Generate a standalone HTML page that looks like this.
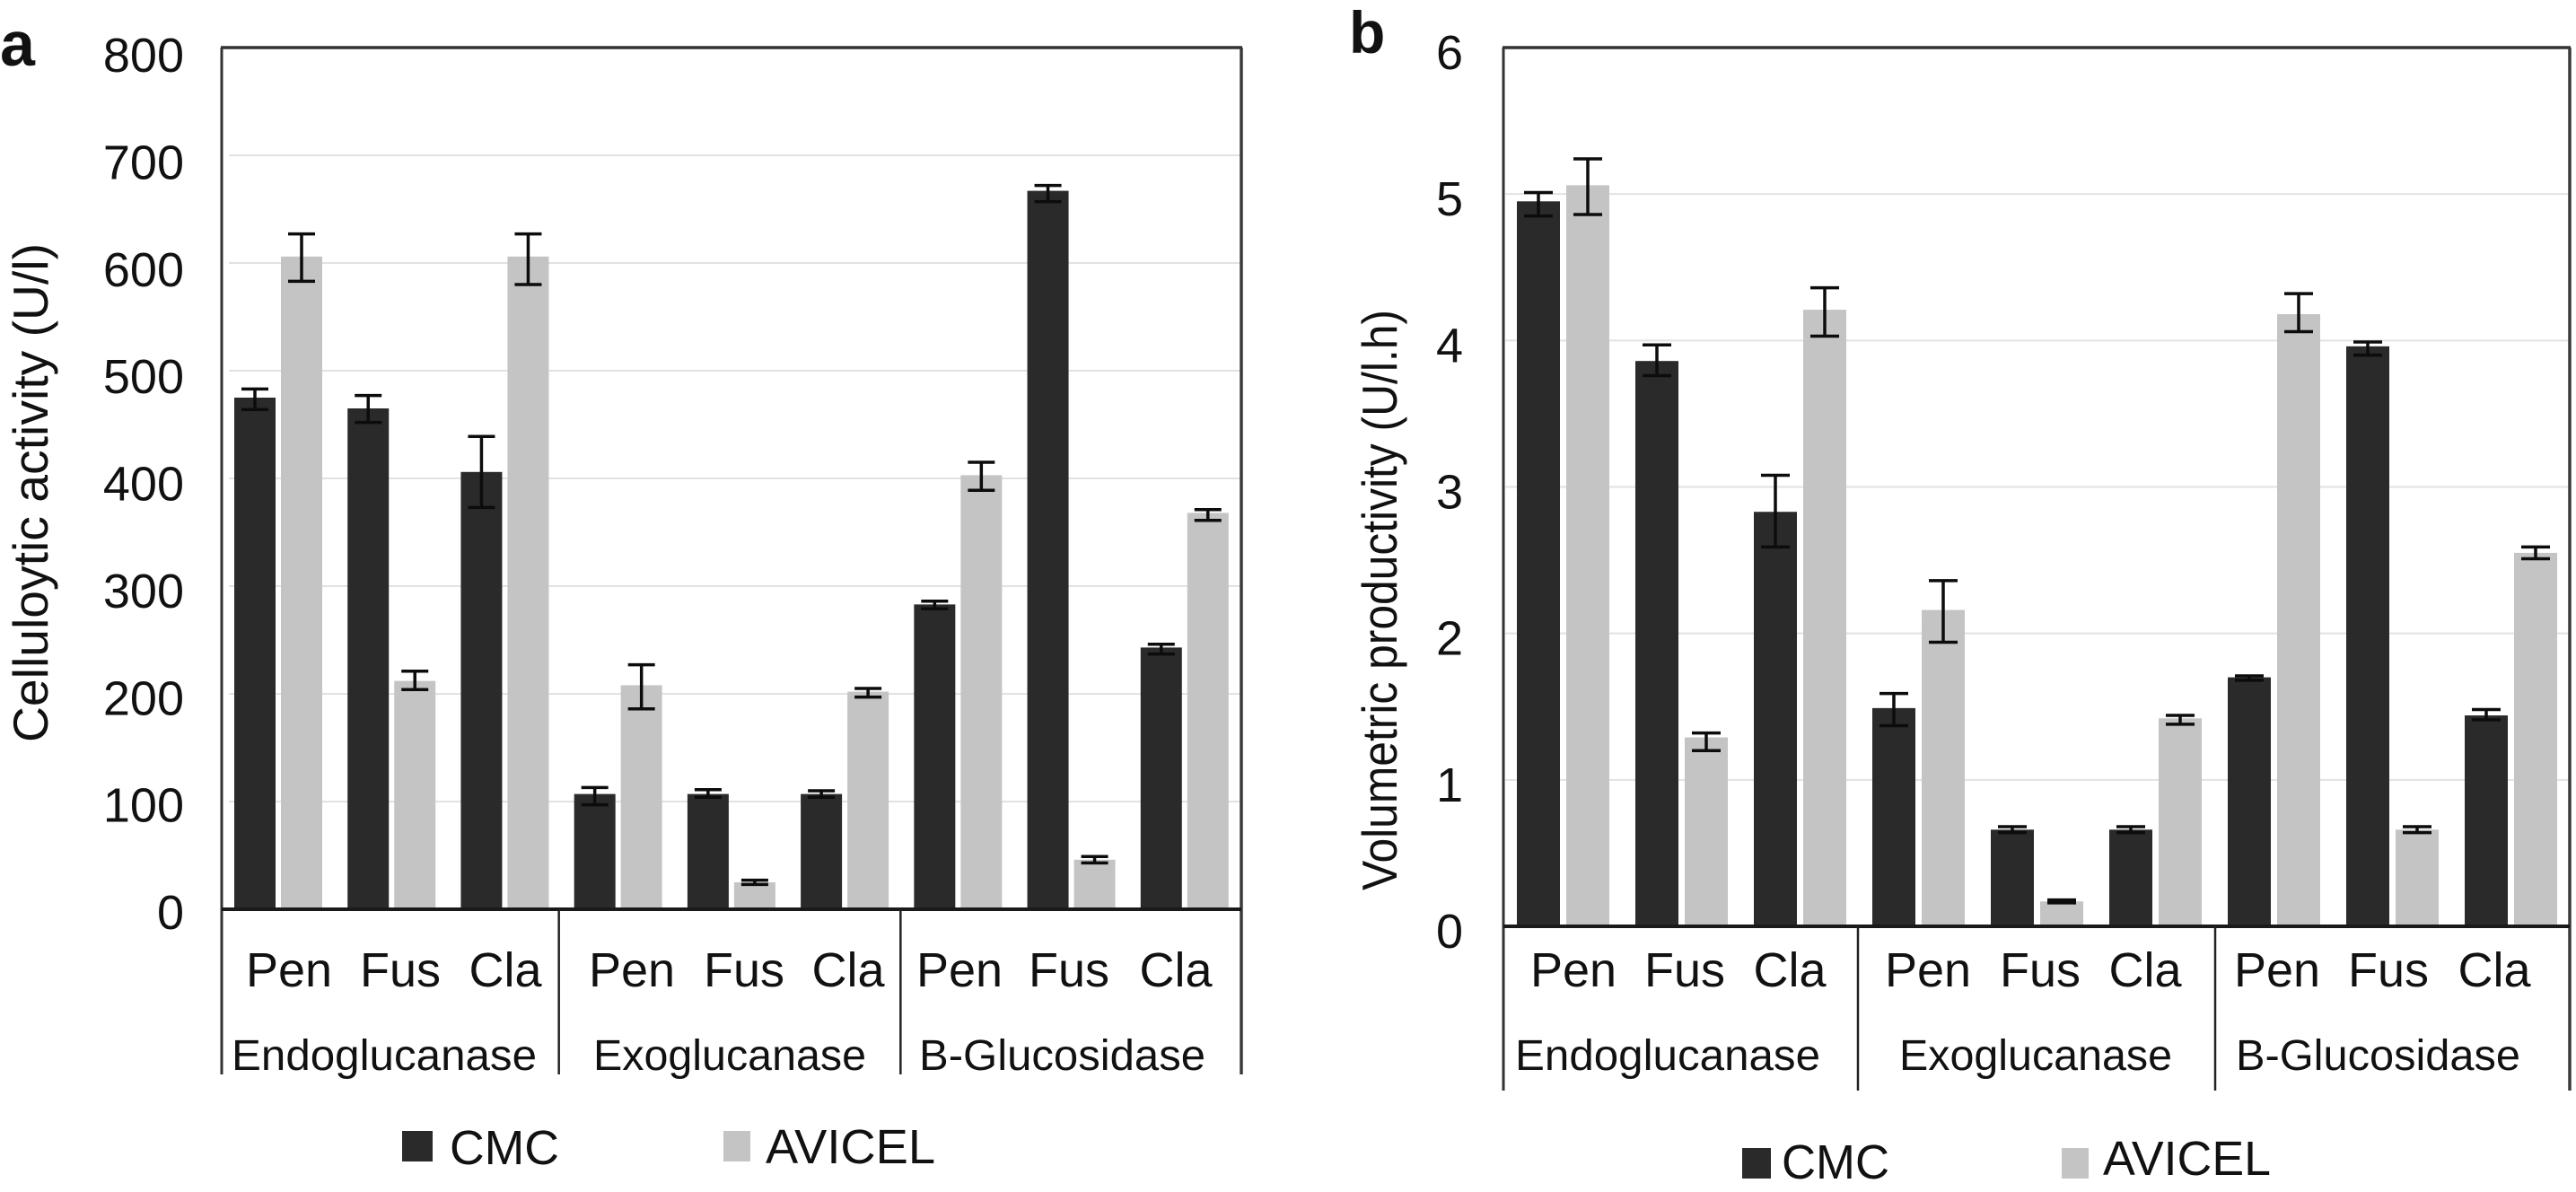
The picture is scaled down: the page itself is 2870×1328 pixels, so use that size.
<!DOCTYPE html>
<html lang="en">
<head>
<meta charset="utf-8">
<title>Celluloytic activity and volumetric productivity</title>
<style>
html,body{margin:0;padding:0;background:#fff;}
svg{display:block;}
text{font-family:"Liberation Sans",Arial,sans-serif;fill:#111;}
</style>
</head>
<body>
<svg id="figure" xmlns="http://www.w3.org/2000/svg" width="2870" height="1328" viewBox="0 0 2870 1328">
  <rect x="0" y="0" width="2870" height="1328" fill="#fff"/>
  <g id="panelA">
    <text x="0" y="73" font-size="70" font-weight="bold">a</text>
    <text transform="translate(53,827) rotate(-90)" font-size="55" textLength="556" lengthAdjust="spacingAndGlyphs">Celluloytic activity (U/l)</text>
    <g font-size="54" text-anchor="middle">
      <text x="322" y="1099">Pen</text>
      <text x="446" y="1099">Fus</text>
      <text x="563" y="1099">Cla</text>
      <text x="704" y="1099">Pen</text>
      <text x="829" y="1099">Fus</text>
      <text x="945" y="1099">Cla</text>
      <text x="1069" y="1099">Pen</text>
      <text x="1191" y="1099">Fus</text>
      <text x="1310" y="1099">Cla</text>
    </g>
    <g font-size="48">
      <text x="258" y="1192" textLength="340" lengthAdjust="spacingAndGlyphs">Endoglucanase</text>
      <text x="661" y="1192" textLength="304" lengthAdjust="spacingAndGlyphs">Exoglucanase</text>
      <text x="1024" y="1192" textLength="319" lengthAdjust="spacingAndGlyphs">B-Glucosidase</text>
    </g>
    <g>
      <rect x="448" y="1260" width="34" height="34" fill="#2a2a2a"/>
      <text x="501" y="1297" font-size="54" textLength="122" lengthAdjust="spacingAndGlyphs">CMC</text>
      <rect x="806" y="1260" width="30" height="34" fill="#c4c4c4"/>
      <text x="853" y="1296" font-size="54" textLength="189" lengthAdjust="spacingAndGlyphs">AVICEL</text>
    </g>
  </g>
  <g id="panelB">
    <text x="1503" y="59" font-size="66" font-weight="bold">b</text>
    <text transform="translate(1556,992) rotate(-90)" font-size="55" textLength="647" lengthAdjust="spacingAndGlyphs">Volumetric productivity (U/l.h)</text>
    <g font-size="54" text-anchor="middle">
      <text x="1753" y="1099">Pen</text>
      <text x="1877" y="1099">Fus</text>
      <text x="1994" y="1099">Cla</text>
      <text x="2148" y="1099">Pen</text>
      <text x="2273" y="1099">Fus</text>
      <text x="2390" y="1099">Cla</text>
      <text x="2537" y="1099">Pen</text>
      <text x="2661" y="1099">Fus</text>
      <text x="2779" y="1099">Cla</text>
    </g>
    <g font-size="48">
      <text x="1688" y="1192" textLength="340" lengthAdjust="spacingAndGlyphs">Endoglucanase</text>
      <text x="2116" y="1192" textLength="304" lengthAdjust="spacingAndGlyphs">Exoglucanase</text>
      <text x="2491" y="1192" textLength="317" lengthAdjust="spacingAndGlyphs">B-Glucosidase</text>
    </g>
    <g>
      <rect x="1941" y="1279" width="32" height="34" fill="#2a2a2a"/>
      <text x="1985" y="1313" font-size="54" textLength="120" lengthAdjust="spacingAndGlyphs">CMC</text>
      <rect x="2297" y="1279" width="30" height="34" fill="#c4c4c4"/>
      <text x="2343" y="1309" font-size="54" textLength="187" lengthAdjust="spacingAndGlyphs">AVICEL</text>
    </g>
  </g>
</svg>
<script>
// Panel a: celluloytic activity (U/l)
const categoriesA = ['Endo-Pen','Endo-Fus','Endo-Cla','Exo-Pen','Exo-Fus','Exo-Cla','BGlu-Pen','BGlu-Fus','BGlu-Cla'];
const ticksA = [0,100,200,300,400,500,600,700,800];
const cmcA = [475,465,406,107,107,107,283,667,243];
const cmcPlusA = [8,12,33,6,4,3,3,5,3];
const cmcMinusA = [11,13,33,10,3,3,4,10,6];
const avicelA = [606,212,606,208,25,202,403,46,368];
const avicelPlusA = [21,9,21,19,2,3,12,3,3];
const avicelMinusA = [23,8,26,22,2,5,14,3,7];

// Panel b: volumetric productivity (U/l.h)
const categoriesB = ['Endo-Pen','Endo-Fus','Endo-Cla','Exo-Pen','Exo-Fus','Exo-Cla','BGlu-Pen','BGlu-Fus','BGlu-Cla'];
const ticksB = [0,1,2,3,4,5,6];
const cmcB = [4.95,3.86,2.83,1.49,0.66,0.66,1.70,3.96,1.44];
const cmcPlusB = [0.06,0.11,0.25,0.10,0.02,0.02,0.01,0.03,0.04];
const cmcMinusB = [0.10,0.10,0.24,0.12,0.02,0.02,0.02,0.06,0.03];
const avicelB = [5.06,1.29,4.21,2.16,0.17,1.42,4.18,0.66,2.55];
const avicelPlusB = [0.18,0.03,0.15,0.20,0.01,0.02,0.14,0.02,0.04];
const avicelMinusB = [0.20,0.09,0.18,0.22,0.01,0.04,0.12,0.02,0.04];

const SVGNS = 'http://www.w3.org/2000/svg';

function make(parent, tag, attrs) {
  const el = document.createElementNS(SVGNS, tag);
  for (const k in attrs) el.setAttribute(k, attrs[k]);
  parent.appendChild(el);
  return el;
}

function drawPanel(id, opt) {
  const root = document.getElementById(id);
  const x0 = opt.left, x1 = opt.right;
  const top = opt.top, base = opt.base;
  const maxV = opt.ticks[opt.ticks.length - 1];
  const y = v => base - (base - top) * v / maxV;
  const labelY = v => opt.labelBase - (opt.labelBase - opt.labelTop) * v / maxV;
  const band = (x1 - x0) / opt.categories.length;
  const barX = (i, off) => x0 + band * i + off;

  opt.ticks.forEach(function (t) {
    if (t !== 0 && t !== maxV) {
      const grid = make(root, 'line', {x1: x0 + opt.gridInset, x2: x1, y1: y(t), y2: y(t), stroke: '#e2e2e2', 'stroke-width': 2});
      
      
    }
    const label = make(root, 'text', {x: opt.tickRight, y: labelY(t), 'font-size': 54, 'text-anchor': 'end'});
    
    
    label.textContent = String(t);
  });

  const series = [
    {key: 'cmc', vals: opt.cmc, plus: opt.cmcPlus, minus: opt.cmcMinus, fill: '#2a2a2a', off: opt.darkOff},
    {key: 'avicel', vals: opt.avicel, plus: opt.avicelPlus, minus: opt.avicelMinus, fill: '#c4c4c4', off: opt.lightOff}
  ];

  series.forEach(function (s) {
    s.vals.forEach(function (v, i) {
      const bx = barX(i, s.off);
      const bar = make(root, 'rect', {x: bx, y: y(v), width: opt.barW, height: base - y(v), fill: s.fill});
      
      
    });
  });

  make(root, 'g', {});
  series.forEach(function (s) {
    s.vals.forEach(function (v, i) {
      const cx = barX(i, s.off) + opt.barW / 2;
      const hi = y(v + s.plus[i]), lo = y(v - s.minus[i]);
      const err = make(root, 'path', {
        d: 'M' + (cx - opt.capHalf) + ' ' + hi + 'H' + (cx + opt.capHalf) +
           'M' + cx + ' ' + hi + 'V' + lo +
           'M' + (cx - opt.capHalf) + ' ' + lo + 'H' + (cx + opt.capHalf),
        fill: 'none', stroke: '#0c0c0c', 'stroke-width': 3.5
      });
      
      
    });
  });

  const frameTop = make(root, 'line', {x1: x0 - 1, x2: x1 + 1, y1: top, y2: top, stroke: '#333', 'stroke-width': 3.5});
  
  

  const frameLeft = make(root, 'line', {x1: x0, x2: x0, y1: top, y2: opt.tickEnd, stroke: '#333', 'stroke-width': 3});
  
  

  const frameRight = make(root, 'line', {x1: x1, x2: x1, y1: top, y2: opt.tickEnd, stroke: '#3a3a3a', 'stroke-width': 3.5});
  
  

  const baseline = make(root, 'line', {x1: x0, x2: x1, y1: base, y2: base, stroke: '#1a1a1a', 'stroke-width': 4});
  
  

  [3, 6].forEach(function (n) {
    const div = make(root, 'line', {x1: opt.dividerX(n), x2: opt.dividerX(n), y1: base, y2: opt.tickEnd, stroke: '#222', 'stroke-width': 2.5});
    
    
  });
}

drawPanel('panelA', {
  categories: categoriesA, ticks: ticksA,
  cmc: cmcA, cmcPlus: cmcPlusA, cmcMinus: cmcMinusA,
  avicel: avicelA, avicelPlus: avicelPlusA, avicelMinus: avicelMinusA,
  left: 247, right: 1383, top: 53, base: 1013, tickEnd: 1197,
  labelBase: 1035, labelTop: 80, tickRight: 205, gridInset: 8,
  barW: 46, darkOff: 14, lightOff: 66, capHalf: 15,
  dividerX: n => 247 + (1383 - 247) * n / 9 - (n === 3 ? 3 : 1)
});

drawPanel('panelB', {
  categories: categoriesB, ticks: ticksB,
  cmc: cmcB, cmcPlus: cmcPlusB, cmcMinus: cmcMinusB,
  avicel: avicelB, avicelPlus: avicelPlusB, avicelMinus: avicelMinusB,
  left: 1675, right: 2863, top: 53, base: 1032, tickEnd: 1215,
  labelBase: 1056, labelTop: 77, tickRight: 1630, gridInset: 2,
  barW: 48, darkOff: 15, lightOff: 70, capHalf: 16,
  dividerX: n => 1675 + (2863 - 1675) * n / 9 + (n === 3 ? -1 : 1)
});
</script>
</body>
</html>
